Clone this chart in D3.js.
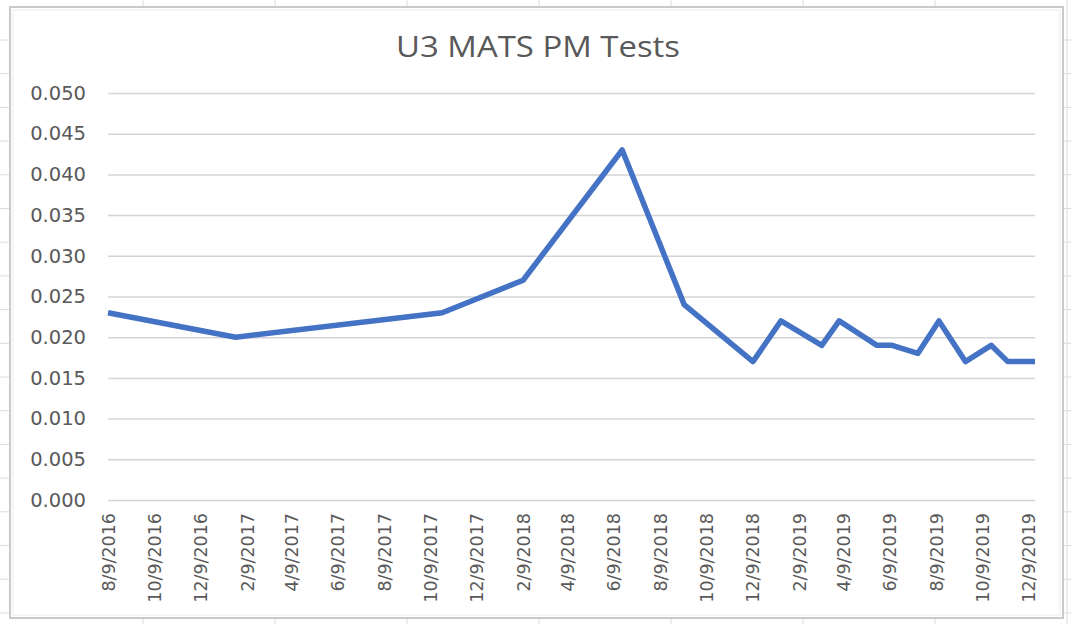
<!DOCTYPE html>
<html>
<head>
<meta charset="utf-8">
<script src="https://cdn.jsdelivr.net/npm/d3@7.9.0/dist/d3.min.js"></script>
<style>
  html, body { margin: 0; padding: 0; background: #fff; }
  svg { display: block; }
</style>
</head>
<body>
<svg id="chart" width="1071" height="624"></svg>
<script>
// test dates and PM readings
const testDates = [
  '2016-08-09', '2017-01-25', '2017-10-25', '2018-02-09', '2018-06-20',
  '2018-09-10', '2018-12-10', '2019-01-16', '2019-03-11', '2019-04-03',
  '2019-05-23', '2019-06-12', '2019-07-16', '2019-08-13', '2019-09-17',
  '2019-10-21', '2019-11-12', '2019-12-18',
];
const pmValues = [
  0.023, 0.020, 0.023, 0.027, 0.043,
  0.024, 0.017, 0.022, 0.019, 0.022,
  0.019, 0.019, 0.018, 0.022, 0.017,
  0.019, 0.017, 0.017,
];
const xTickLabels = [
  '8/9/2016', '10/9/2016', '12/9/2016', '2/9/2017', '4/9/2017', '6/9/2017',
  '8/9/2017', '10/9/2017', '12/9/2017', '2/9/2018', '4/9/2018', '6/9/2018',
  '8/9/2018', '10/9/2018', '12/9/2018', '2/9/2019', '4/9/2019', '6/9/2019',
  '8/9/2019', '10/9/2019', '12/9/2019',
];
const yTicks = [0, 0.005, 0.01, 0.015, 0.02, 0.025, 0.03, 0.035, 0.04, 0.045, 0.05];

const parseIso = d3.utcParse('%Y-%m-%d');
const parseLabel = d3.utcParse('%m/%d/%Y');
const data = testDates.map((d, i) => ({ date: parseIso(d), value: pmValues[i] }));

const W = 1071, H = 624;
const svg = d3.select('#chart');

// spreadsheet cells behind the chart
const bg = svg.append('g');
d3.range(143, W, 132).forEach((x) => {
  bg.append('line').attr('x1', x).attr('x2', x).attr('y1', 0).attr('y2', H)
    .attr('stroke', '#dcdcdc').attr('stroke-width', 1);
});
d3.range(40, H, 33.7).forEach((y) => {
  bg.append('line').attr('x1', 0).attr('x2', W).attr('y1', y).attr('y2', y)
    .attr('stroke', '#dcdcdc').attr('stroke-width', 1);
});

// chart frame
svg.append('rect')
  .attr('x', 10).attr('y', 7).attr('width', 1053).attr('height', 611)
  .attr('fill', '#fff').attr('stroke', '#c9c9c9').attr('stroke-width', 2);
svg.append('rect')
  .attr('x', 13).attr('y', 10).attr('width', 1047).attr('height', 605)
  .attr('fill', 'none').attr('stroke', '#ececec').attr('stroke-width', 1);

const plot = { left: 108, right: 1035, top: 93, bottom: 500 };

const x = d3.scaleUtc()
  .domain(d3.extent(data, (d) => d.date))
  .range([plot.left, plot.right]);

const y = d3.scaleLinear()
  .domain([0, 0.05])
  .range([plot.bottom, plot.top]);

// title
svg.append('text')
  .attr('x', 538).attr('y', 57)
  .attr('text-anchor', 'middle')
  .attr('font-family', 'Open Sans, sans-serif')
  .attr('font-size', 30)
  .attr('fill', '#595959')
  .attr('textLength', 284)
  .attr('lengthAdjust', 'spacingAndGlyphs')
  .text('U3 MATS PM Tests');

// y gridlines + labels
const yAxis = svg.append('g')
  .attr('transform', `translate(${plot.left},0)`)
  .call(d3.axisLeft(y).tickValues(yTicks).tickFormat(d3.format('.3f'))
    .tickSize(-(plot.right - plot.left)).tickPadding(22));
yAxis.select('.domain').remove();
yAxis.selectAll('.tick line').attr('stroke', '#d4d4d4').attr('stroke-width', 1.5);
yAxis.selectAll('.tick text')
  .attr('fill', '#595959')
  .attr('font-family', 'DejaVu Sans, sans-serif')
  .attr('font-size', 19.5);

// x labels (date axis, every 2 months)
const xAxis = svg.append('g')
  .attr('transform', `translate(0,${plot.bottom})`)
  .call(d3.axisBottom(x).tickValues(xTickLabels.map(parseLabel))
    .tickFormat((d, i) => xTickLabels[i]).tickSize(0).tickPadding(0));
xAxis.select('.domain').remove();
xAxis.selectAll('.tick text')
  .attr('fill', '#595959')
  .attr('font-family', 'DejaVu Sans, sans-serif')
  .attr('font-size', 17.5)
  .attr('text-anchor', 'end')
  .attr('dy', '0.35em')
  .attr('transform', 'translate(0,13) rotate(-90)')
  .attr('y', 0).attr('x', 0);

// series line
svg.append('path')
  .datum(data)
  .attr('fill', 'none')
  .attr('stroke', '#4472c4')
  .attr('stroke-width', 5.5)
  .attr('stroke-linejoin', 'round')
  .attr('d', d3.line().x((d) => x(d.date)).y((d) => y(d.value)));
</script>
</body>
</html>
